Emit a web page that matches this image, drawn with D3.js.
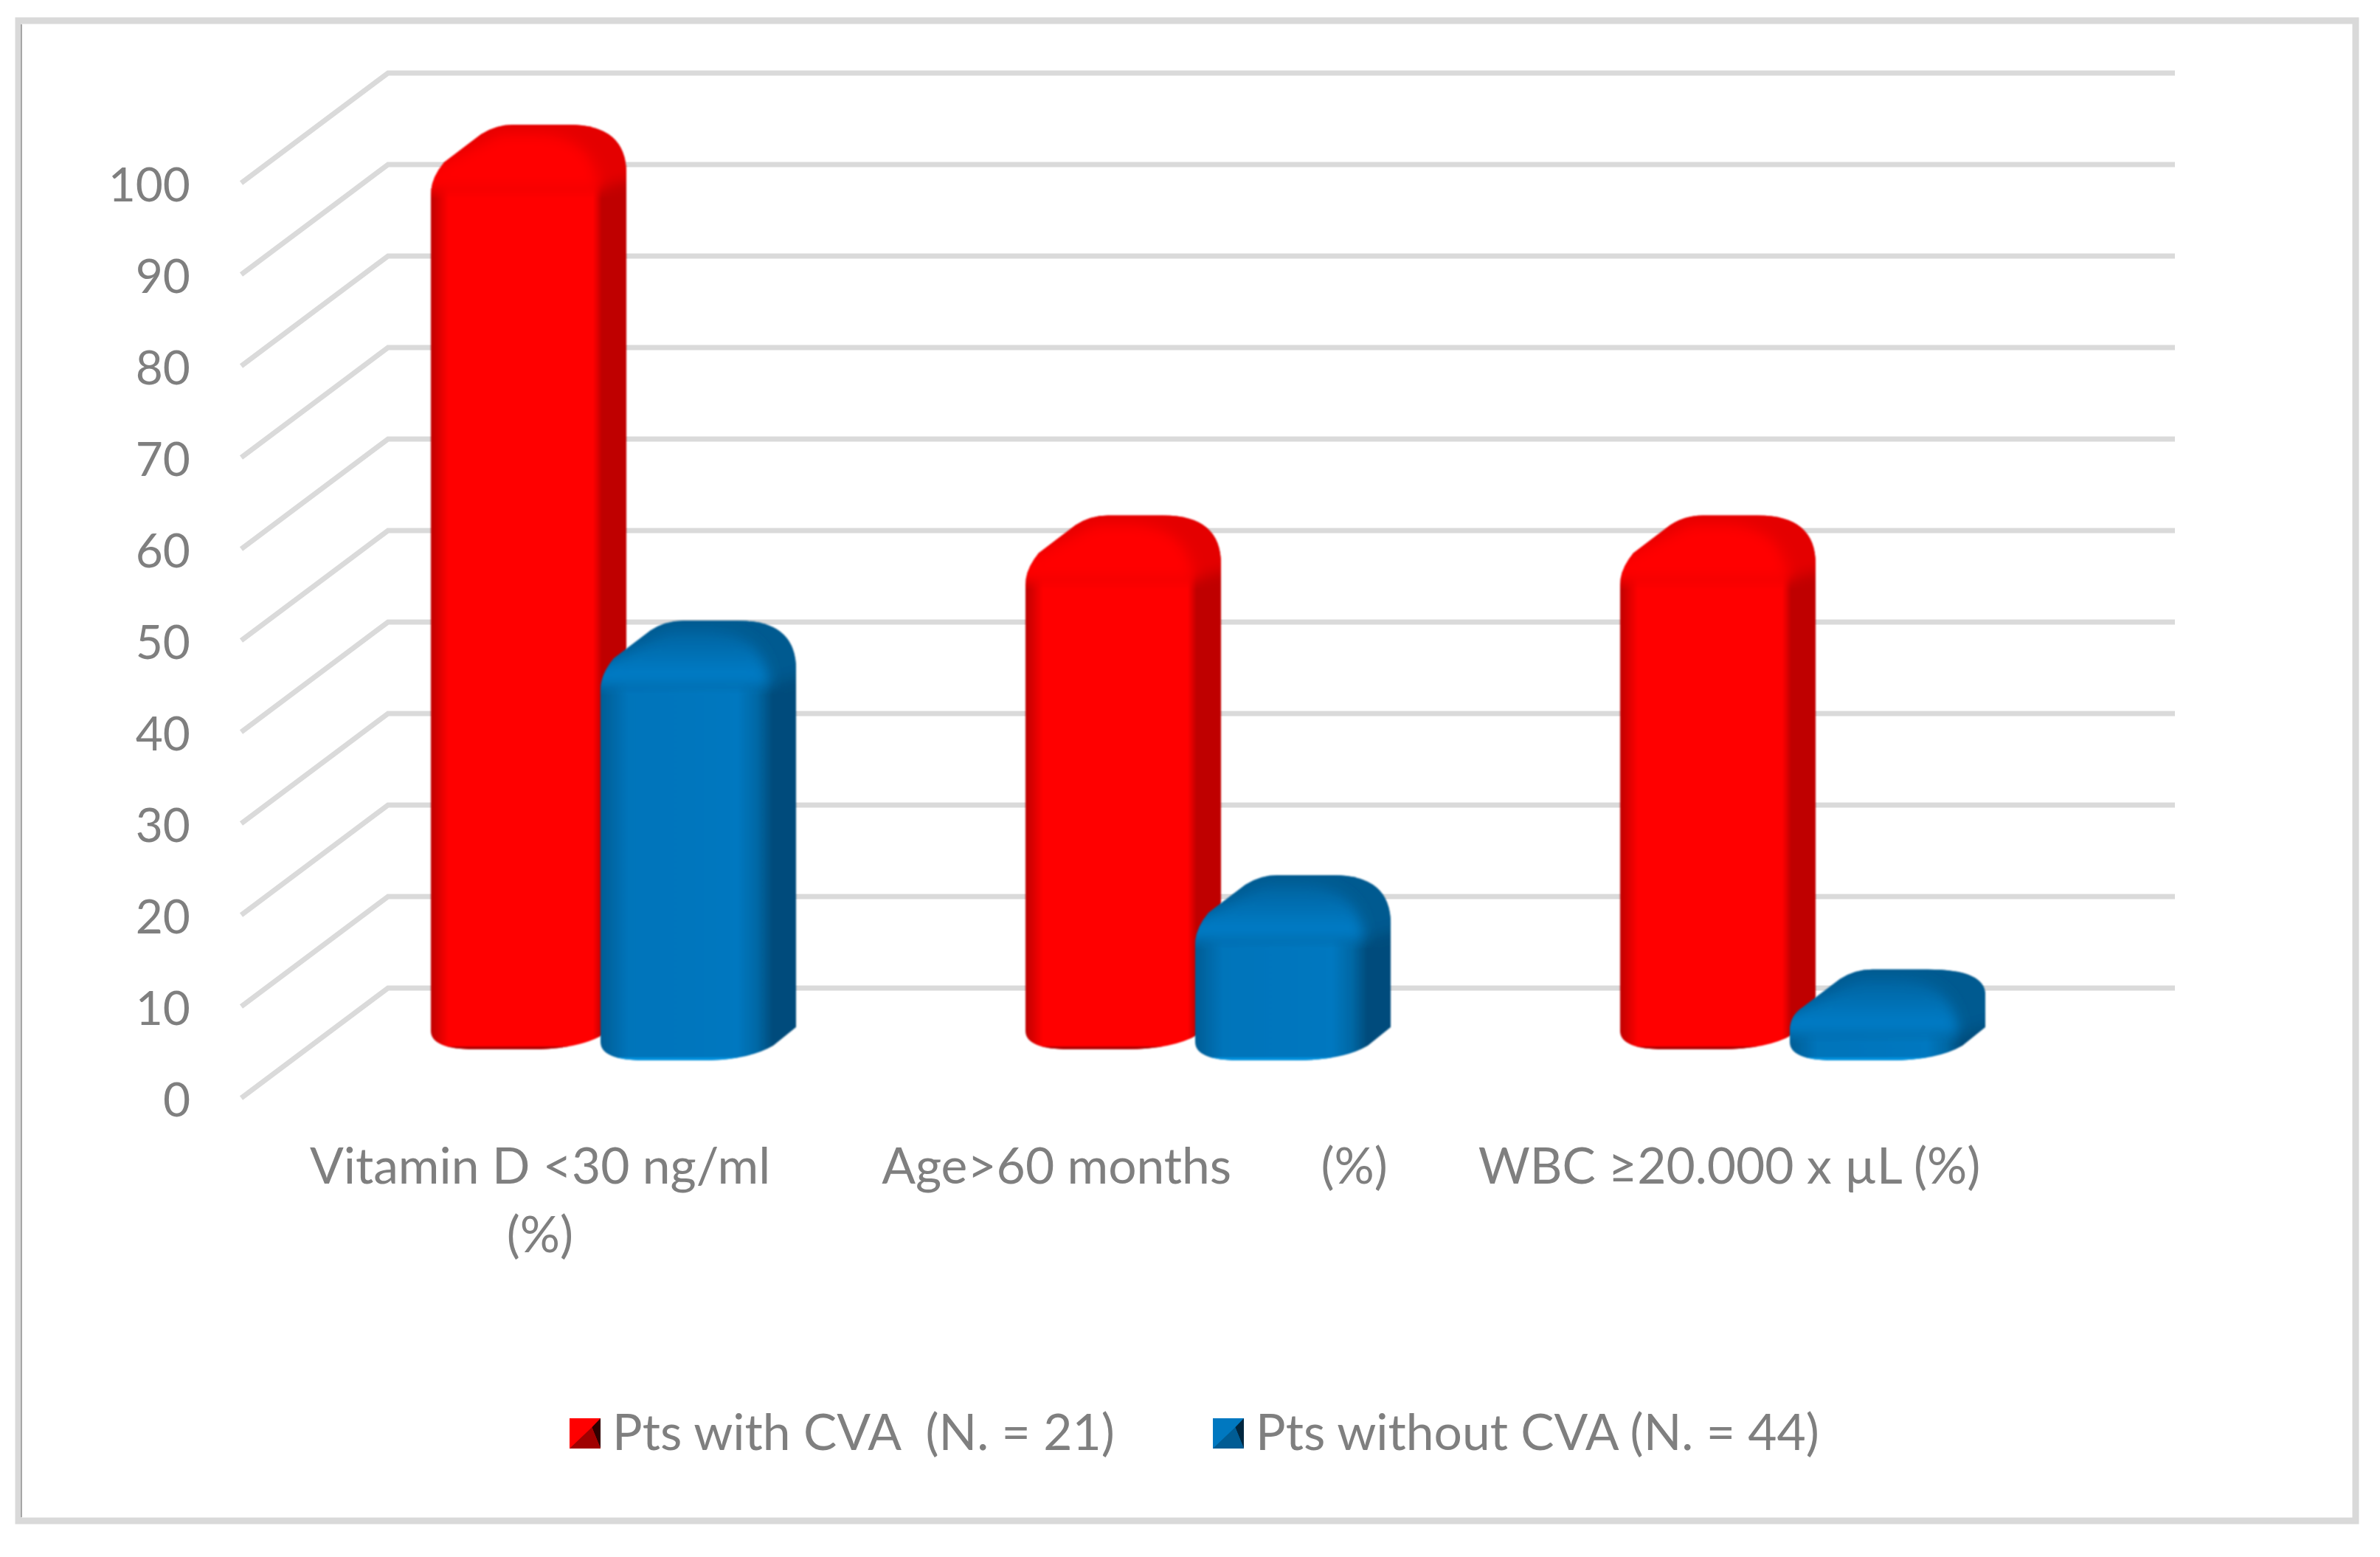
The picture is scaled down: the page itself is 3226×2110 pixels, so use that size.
<!DOCTYPE html>
<html>
<head>
<meta charset="utf-8">
<script src="https://d3js.org/d3.v7.min.js"></script>
<style>
  body { margin: 0; background: #fff; }
  text { font-family: Lato, sans-serif; fill: #7f7f7f; white-space: pre; }
</style>
</head>
<body>
<div id="chart"></div>
<script>
// values
const categories = ["Vitamin D <30 ng/ml|(%)", "Age>60 months       (%)", "WBC ≥20.000 x µL (%)"];
const seriesNames = ["Pts with CVA  (N. = 21)", "Pts without CVA (N. = 44)"];
const withCva = [95, 52.3, 52.3];
const withoutCva = [42, 14.2, 3.9];
const yTicks = [0, 10, 20, 30, 40, 50, 60, 70, 80, 90, 100];

const width = 3226, height = 2110;
const tickFont = 64, labelFont = 67.7;

const svg = d3.select("#chart").append("svg")
    .attr("width", width)
    .attr("height", height)
    .style("display", "block");
const defs = svg.append("defs");

// outer frame
svg.append("rect").attr("x", 25).attr("y", 28).attr("width", 3168).attr("height", 2033)
    .attr("fill", "#fff").attr("stroke", "#d9d9d9").attr("stroke-width", 9);
svg.append("line").attr("x1", 29).attr("x2", 29).attr("y1", 33).attr("y2", 2056)
    .attr("stroke", "#a6a6a6").attr("stroke-width", 2);

// scales
const y = d3.scaleLinear().domain([0, 100]).range([1488, 248]);
const x = d3.scaleBand().domain(categories).range([329, 329 + 806 * 3]);
const xSeries = d3.scalePoint().domain(seriesNames).range([-148, 82]);

// floor and depth of the fake 3D box
const wallDx = 199, wallDy = -149, wallRight = 2948;
const barFloor = { [seriesNames[0]]: 66, [seriesNames[1]]: 51 };
const barW = 265, faceW = 228, capH = 75;

// gridlines: diagonal on the side wall, then straight along the back wall
svg.append("g").selectAll("path")
    .data(yTicks)
    .join("path")
    .attr("d", d => `M${327},${y(d)}L${327 + wallDx},${y(d) + wallDy}L${wallRight},${y(d) + wallDy}`)
    .attr("fill", "none")
    .attr("stroke", "#dadada")
    .attr("stroke-width", 7);

// colours for each series
const palette = [
    {
        stops: [[0, "#bf0000"], [0.09, "#ff0000"], [0.83, "#ff0000"], [0.875, "#bf0000"], [1, "#bf0000"]],
        capTop: "#e40000", patchTop: "#ff0000", patchLow: "#ff0000", rim: "#b00000"
    },
    {
        stops: [[0, "#005d95"], [0.14, "#0074ba"], [0.7, "#0078c0"], [0.8, "#0068a5"], [0.88, "#004c7c"], [1, "#004c7c"]],
        capTop: "#005a90", patchTop: "#00639f", patchLow: "#0082d0", rim: "#0090dd"
    }
];

palette.forEach((p, i) => {
    const g = defs.append("linearGradient").attr("id", "face" + i);
    p.stops.forEach(s => {
        g.append("stop").attr("offset", s[0]).attr("stop-color", s[1]);
    });
    const c = defs.append("linearGradient").attr("id", "cap" + i)
        .attr("x1", 0).attr("x2", 0).attr("y1", 0).attr("y2", 1);
    c.append("stop").attr("offset", 0).attr("stop-color", p.patchTop);
    c.append("stop").attr("offset", 1).attr("stop-color", p.patchLow);
});
defs.append("filter").attr("id", "soft")
    .append("feGaussianBlur").attr("stdDeviation", 9);
defs.append("filter").attr("id", "edge")
    .append("feGaussianBlur").attr("stdDeviation", 1);

function barOutline(x0, yB, yFace) {
    const yT = yFace - capH, x1 = x0 + barW;
    const r = Math.min(66, (yB - yT) * 0.28);
    const s = r / 66;
    return `M${x0},${yB - 25}Q${x0},${yB} ${x0 + 60},${yB}L${x0 + 135},${yB}` +
        `Q${x0 + 200},${yB} ${x0 + 234},${yB - 20}L${x1},${yB - 45}L${x1},${yT + r}` +
        `Q${x1},${yT} ${x1 - 78},${yT}L${x0 + 112},${yT}Q${x0 + 88},${yT} ${x0 + 68},${yT + 13}L${x0 + 18},${yT + 51}` +
        `Q${x0},${yT + 51 + 22 * s} ${x0},${yT + 72 + 22 * s}Z`;
}

// bars, red first so that the blue one sits in front
const bars = svg.append("g");
const rows = categories.map((c, i) => [
    { cat: c, name: seriesNames[0], value: withCva[i], s: 0 },
    { cat: c, name: seriesNames[1], value: withoutCva[i], s: 1 }
]).flat();

rows.forEach((d, i) => {
    const x0 = x(d.cat) + x.bandwidth() / 2 + xSeries(d.name);
    const yB = y(0) - barFloor[d.name];
    const yFace = y(d.value) - barFloor[d.name];
    const yT = yFace - capH;
    const outline = barOutline(x0, yB, yFace);

    defs.append("clipPath").attr("id", "clip" + i).append("path").attr("d", outline);

    const g = bars.append("g").attr("filter", "url(#edge)");
    g.append("path").attr("d", outline).attr("fill", `url(#face${d.s})`);
    // lower rim
    g.append("path")
        .attr("clip-path", `url(#clip${i})`)
        .attr("d", `M${x0},${yB - 4}H${x0 + faceW}V${yB + 4}H${x0}Z`)
        .attr("fill", palette[d.s].rim);

    const top = g.append("g").attr("clip-path", `url(#clip${i})`);
    // darker cap behind the rounded top of the face
    top.append("path")
        .attr("d", `M${x0 - 20},${yFace + 12}H${x0 + faceW}L${x0 + barW + 20},${yFace - 5}V${yT - 20}H${x0 - 20}Z`)
        .attr("fill", palette[d.s].capTop)
        .attr("filter", "url(#soft)");
    // brighter front part of the cap
    top.append("path")
        .attr("d", `M${x0 - 20},${yFace + 12}V${yT + 70}L${x0 + 95},${yT + 12}H${x0 + 150}` +
            `Q${x0 + faceW},${yT + 20} ${x0 + faceW},${yT + 91}V${yFace + 12}Z`)
        .attr("fill", `url(#cap${d.s})`)
        .attr("filter", "url(#soft)");
});

// axes, only the labels are kept
const yAxis = svg.append("g")
    .attr("transform", "translate(258,0)")
    .call(d3.axisLeft(y).tickValues(yTicks).tickSize(0).tickPadding(0));
yAxis.select(".domain").remove();
yAxis.selectAll("text")
    .attr("dy", null)
    .attr("y", 24)
    .style("font-size", tickFont + "px")
    .style("font-family", "Lato, sans-serif");

const xAxis = svg.append("g")
    .attr("transform", "translate(0,1604)")
    .call(d3.axisBottom(x).tickSize(0).tickPadding(0));
xAxis.select(".domain").remove();
xAxis.selectAll("text").each(function (d) {
    const parts = d.split("|");
    const t = d3.select(this).text(null)
        .attr("y", 0)
        .attr("dy", null)
        .style("font-size", labelFont + "px")
        .style("font-family", "Lato, sans-serif");
    parts.forEach((p, j) => {
        t.append("tspan").attr("x", 0).attr("dy", j ? 93 : 0).text(p);
    });
});

// legend
const legendX = [772, 1644], legendTextX = [830, 1702];
const legendMain = ["#ff0000", "#0078c0"];
const legend = svg.append("g").selectAll("g")
    .data(seriesNames)
    .join("g")
    .attr("transform", (d, i) => `translate(${legendX[i]},1922)`);
const sw = 42, sh = 41;
legend.append("rect").attr("width", sw).attr("height", sh).attr("fill", (d, i) => legendMain[i]);
const swatch = [
    { pts: [[sw, 0], [sw, sh], [sw * 0.72, sh * 0.3]], col: ["#300000", "#00263f"] },
    { pts: [[0, sh], [sw, sh], [sw * 0.72, sh * 0.3]], col: ["#a00000", "#005c94"] }
];
swatch.forEach(t => {
    legend.append("polygon")
        .attr("points", t.pts.map(p => p.join(",")).join(" "))
        .attr("fill", (d, i) => t.col[i]);
});
svg.append("g").selectAll("text")
    .data(seriesNames)
    .join("text")
    .attr("x", (d, i) => legendTextX[i])
    .attr("y", 1965)
    .style("font-size", labelFont + "px")
    .text(d => d);
</script>
</body>
</html>
